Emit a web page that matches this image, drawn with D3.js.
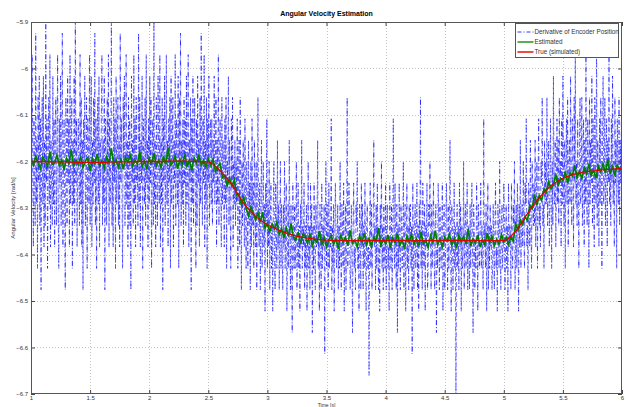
<!DOCTYPE html>
<html lang="en">
<head>
    <meta charset="UTF-8">
    <title>Angular Velocity Estimation</title>
    <script src="https://cdn.jsdelivr.net/npm/d3@7/dist/d3.min.js"></script>
    <style>
        body { margin: 0; background: #fff; }
        text { font-family: "Liberation Sans", Arial, sans-serif; }
    </style>
</head>
<body>

<script>

    //________________________________________________
    // Data
    //________________________________________________
    var xTicks = [1, 1.5, 2, 2.5, 3, 3.5, 4, 4.5, 5, 5.5, 6];
    var yTicks = [-5.9, -6, -6.1, -6.2, -6.3, -6.4, -6.5, -6.6, -6.7];
    var legendLabels = ['Derivative of Encoder Position', 'Estimated', 'True (simulated)'];

    // encoder derivative, in encoder counts (one sample every 5 ms from t = 1 s)
    var encoderStart = 1, encoderDt = 0.005;
    var encoderBase = -6.2, encoderStep = 0.046;
    var encoderCounts = [
        3,-2,5,-1,-4,2,0,-3,6,-2,1,-5,3,-1,4,-3,2,-6,1,3,
        -2,4,-4,1,-3,7,-1,2,-5,0,3,-2,5,-4,1,-1,-3,4,-2,2,
        -4,1,3,-3,0,5,-2,-5,2,-1,4,-3,1,6,-4,0,2,-2,-6,3,
        1,-3,4,-1,2,-4,5,-2,0,3,-5,1,-2,4,-3,7,-1,2,-4,0,
        2,-1,-3,5,-2,3,-4,1,-6,2,0,4,-3,-1,3,-5,2,1,-2,5,
        -3,0,4,-4,1,-2,3,-1,6,-3,2,-5,0,3,-2,4,-4,1,-1,2,
        5,-3,1,-2,4,-6,2,0,-3,3,-1,5,-4,2,-2,1,7,-3,0,-4,
        3,-1,2,-5,4,-2,0,3,-3,1,-4,6,-1,2,-2,-5,3,0,4,-3,
        -1,5,-2,1,-4,3,-3,2,0,-6,4,-1,1,-3,5,-2,2,-4,3,-1,
        0,-3,6,-2,3,-4,1,-1,4,-5,2,0,-2,3,-3,5,-1,1,-4,2,
        -2,4,-1,3,-5,0,2,-3,7,-2,1,-4,3,-1,-3,4,0,-2,5,-4,
        1,-2,3,-6,2,-1,4,-3,0,5,-2,1,-4,2,-1,3,-5,4,-2,0,
        3,-4,1,-1,5,-3,2,0,-2,4,-5,3,-1,6,-3,1,-2,2,-4,3,
        -1,2,-3,4,-2,0,5,-4,1,-1,3,-6,2,-2,4,-3,0,3,-1,-5,
        2,-3,4,-1,1,-4,3,-2,6,0,-3,2,-1,5,-4,1,-2,3,-5,2,
        -1,4,-3,0,2,-2,
        2,-3,1,-1,4,-2,0,3,-4,1,-2,5,-3,0,2,-1,-4,3,-2,1,
        -1,-4,2,-2,3,-5,0,-1,4,-3,1,-2,-5,2,-1,3,-4,0,-2,1,
        -3,0,-2,2,-5,-1,1,-4,3,-2,-6,0,-3,1,-1,-4,2,-2,-5,0,
        -2,-5,1,-3,-1,-6,0,-4,2,-3,-1,-5,1,-2,-4,0,-6,-2,3,-3,
        -4,-1,-6,-2,1,-5,-3,0,-4,-2,-7,-1,-3,2,-5,-2,-4,0,-6,-3,
        -1,-5,-3,-7,-2,0,-4,-6,-1,-3,-5,1,-4,-2,-6,-3,0,-5,-2,-4,
        -6,-2,-4,0,-5,-3,-1,-7,-4,-2,-5,1,-3,-6,-2,-4,-8,-1,-3,-5,
        -2,-5,-3,0,-6,-4,-1,-5,-3,-7,-2,-4,1,-5,-3,
        -4,-1,-6,-3,-5,-2,-7,-4,0,-5,-3,-6,-1,-4,-2,-8,-3,-5,-1,-4,
        -6,-2,-4,-3,1,-5,-3,-7,-2,-4,-6,-1,-5,-3,-4,-2,-9,-3,0,-5,
        -2,-4,-6,-1,-5,-3,-4,2,-6,-3,-5,-2,-7,-4,-1,-3,-5,-4,-2,-6,
        -3,-5,0,-4,-6,-2,-3,-5,-1,-7,-4,-2,-6,-3,3,-5,-4,-1,-3,-6,
        -5,-2,-4,-8,-3,-1,-5,-4,-6,-2,-3,0,-5,-4,-7,-2,-3,-6,-1,-4,
        -2,-6,-3,-5,-1,-4,-7,-3,-2,-5,-4,-10,-3,-1,-5,-2,-6,-4,-3,1,
        -4,-3,-6,-2,-5,-1,-4,-6,-3,-7,-2,-4,0,-5,-3,-6,-2,-4,-5,-1,
        -6,-3,-2,-5,-4,-7,-1,-3,-5,-2,-6,-4,2,-3,-5,-1,-4,-6,-2,-8,
        -3,-5,-1,-4,-6,-2,-3,-5,-4,0,-6,-3,-2,-7,-4,-1,-5,-3,-6,-2,
        -4,-2,-5,-3,-9,-1,-4,-6,-3,-2,-5,-4,-1,-6,-3,-7,-2,-4,3,-5,
        -3,-6,-1,-4,-5,-2,-7,-3,-4,-1,-6,-5,-2,-3,0,-4,-6,-2,-5,-3,
        -1,-4,-6,-3,-2,-8,-4,-5,-1,-3,-6,-2,-4,-5,-3,-1,-7,-4,-2,-6,
        -5,-3,-1,-4,-6,-2,-5,-3,1,-4,-7,-2,-3,-6,-4,-1,-5,-3,-11,-4,
        -2,-5,-3,-6,-1,-4,-2,-7,-3,-5,-4,0,-6,-3,-2,-5,-4,-1,-6,-3,
        -4,-6,-2,-5,-3,-1,-4,-8,-2,-3,-6,-4,-5,-1,-3,-7,-2,-4,-5,-3,
        -1,-5,-3,-4,-6,2,-4,-3,-5,-2,-7,-4,-1,-6,-3,-5,-2,-4,-3,-6,
        -5,-2,-4,-6,-3,-1,-5,-4,-7,-2,-3,-5,0,-4,-6,-3,-2,-5,-4,-1,
        -3,-6,-4,-2,-5,-3,-7,-1,-4,-3,
        -3,-6,-1,-4,-5,-2,-3,0,-6,-4,-2,-5,-1,-3,-7,-2,-4,1,-5,-3,
        -2,-4,0,-3,-5,-1,-2,2,-4,-3,-6,-1,-2,-4,1,-3,-5,0,-2,-3,
        -1,-3,1,-4,-2,0,-5,-1,2,-3,-2,-4,0,-1,3,-3,-2,-5,1,-2,
        0,-2,3,-3,-1,1,-4,-2,2,-1,-5,0,-3,4,-1,-2,1,-4,-1,2,
        -2,1,-3,3,-1,0,-4,2,-2,4,-1,-3,1,-5,0,2,-2,3,-4,0,
        1,-2,4,-1,-3,2,0,-4,3,-1,5,-2,0,-3,2,-1,-5,1,3,-2,
        -1,3,-3,0,2,-4,1,-2,5,-1,-3,2,0,-5,3,-2,1,-1,4,-3,
        2,-1,-4,3,0,-2,6,-3,1,-1,-4,2,-2,3,0,-5,1,4,-2,-1,
        3,-3,0,2,-4,1,-1,5,-2,0,
        -3,2,-1,4,-2,0,-4,3,-1,1,-5,2,0,-2,3,-3,1,-1,2,-2
    ];

    // estimator output, one sample every 20 ms from t = 1 s
    var estStart = 1, estDt = 0.02;
    var estimated = [
        -6.195,-6.208,-6.188,-6.203,-6.215,-6.191,-6.198,-6.211,-6.180,-6.206,
        -6.202,-6.186,-6.209,-6.196,-6.218,-6.193,-6.204,-6.175,-6.210,-6.197,
        -6.207,-6.189,-6.213,-6.199,-6.192,-6.220,-6.194,-6.205,-6.184,-6.209,
        -6.198,-6.214,-6.190,-6.203,-6.172,-6.208,-6.196,-6.212,-6.194,-6.217,
        -6.191,-6.202,-6.187,-6.210,-6.197,-6.206,-6.178,-6.211,-6.200,-6.215,
        -6.193,-6.204,-6.182,-6.209,-6.198,-6.213,-6.189,-6.206,-6.170,-6.208,
        -6.203,-6.188,-6.216,-6.195,-6.207,-6.185,-6.210,-6.198,-6.219,-6.192,
        -6.204,-6.187,-6.208,-6.197,-6.212,-6.194,
        -6.208,-6.195,-6.221,-6.210,-6.205,-6.235,-6.230,-6.252,-6.236,-6.253,
        -6.240,-6.273,-6.269,-6.293,-6.277,-6.300,-6.317,-6.298,-6.312,-6.326,
        -6.310,-6.331,-6.309,-6.343,-6.333,-6.351,-6.334,-6.345,-6.330,-6.357,
        -6.345,-6.364,-6.343,-6.361,-6.333,-6.362,-6.370,-6.352,-6.377,-6.357,
        -6.360,-6.376,-6.355,-6.381,-6.366,-6.374,-6.350,-6.379,-6.363,-6.384,
        -6.368,-6.359,-6.378,-6.366,-6.388,-6.357,-6.373,-6.363,-6.381,-6.348,
        -6.376,-6.369,-6.384,-6.360,-6.374,-6.354,-6.379,-6.365,-6.383,-6.362,
        -6.372,-6.343,-6.380,-6.367,-6.377,-6.358,-6.386,-6.364,-6.375,-6.355,
        -6.381,-6.368,-6.389,-6.361,-6.373,-6.357,-6.378,-6.366,-6.382,-6.352,
        -6.376,-6.369,-6.385,-6.360,-6.374,-6.349,-6.379,-6.367,-6.383,-6.363,
        -6.371,-6.356,-6.380,-6.365,-6.387,-6.359,-6.373,-6.362,-6.377,-6.345,
        -6.382,-6.366,-6.376,-6.358,-6.384,-6.368,-6.379,-6.354,-6.375,-6.361,
        -6.381,-6.367,-6.378,-6.357,-6.374,
        -6.363,-6.379,-6.362,-6.372,-6.334,-6.347,-6.326,-6.335,-6.318,-6.327,
        -6.294,-6.301,-6.271,-6.294,-6.273,-6.284,-6.259,-6.266,-6.243,-6.259,
        -6.250,-6.228,-6.253,-6.236,-6.242,-6.222,-6.246,-6.224,-6.231,-6.208,
        -6.235,-6.221,-6.237,-6.213,-6.227,-6.206,-6.229,-6.219,-6.236,-6.210,
        -6.222,-6.205,-6.225,-6.195,-6.227,-6.211,-6.228,-6.208,-6.219,-6.209
    ];

    // simulated true velocity, one sample every 100 ms from t = 1 s
    var trueStart = 1, trueDt = 0.1;
    var trueVelocity = [
        -6.200,-6.200,-6.201,-6.201,-6.202,-6.202,-6.202,-6.201,-6.201,-6.200,
        -6.200,-6.200,-6.199,-6.199,-6.200,-6.201,
        -6.220,-6.250,-6.290,-6.318,-6.336,-6.348,-6.357,-6.363,-6.367,-6.369,
        -6.370,-6.370,-6.370,-6.370,-6.370,-6.370,-6.370,-6.370,-6.370,-6.370,
        -6.370,-6.370,-6.370,-6.370,-6.370,
        -6.350,-6.312,-6.278,-6.252,-6.236,-6.227,-6.222,-6.219,-6.217,-6.215
    ];

    //________________________________________________
    // DOM preparation
    //________________________________________________
    var width = 629, height = 407;
    var margins = {top: 22, right: 7, bottom: 13, left: 31};
    var chartW = width - margins.left - margins.right;
    var chartH = height - margins.top - margins.bottom;

    var svg = d3.select('body').append('svg')
            .attr('width', width).attr('height', height)
            .style('display', 'block');
    svg.append('rect').attr('width', width).attr('height', height).attr('fill', '#fff');

    var vis = svg.append('g')
            .attr('transform', 'translate(' + margins.left + ',' + margins.top + ')');

    svg.append('defs').append('clipPath').attr('id', 'plot-clip')
            .append('rect').attr('width', chartW).attr('height', chartH);

    var x = d3.scaleLinear().domain([1, 6]).range([0, chartW]);
    var y = d3.scaleLinear().domain([-6.7, -5.9]).range([chartH, 0]);

    //________________________________________________
    // Grid
    //________________________________________________
    var grid = vis.append('g').attr('class', 'grid')
            .attr('stroke', '#b4b4b4').attr('stroke-width', 0.8)
            .attr('stroke-dasharray', '1,2');
    grid.selectAll('line.vgrid').data(xTicks.slice(1, -1)).enter().append('line')
            .attr('class', 'vgrid')
            .attr('x1', function (d) { return Math.round(x(d)) + 0.5; })
            .attr('x2', function (d) { return Math.round(x(d)) + 0.5; })
            .attr('y1', 0).attr('y2', chartH);
    grid.selectAll('line.hgrid').data(yTicks.slice(1, -1)).enter().append('line')
            .attr('class', 'hgrid')
            .attr('y1', function (d) { return Math.round(y(d)) + 0.5; })
            .attr('y2', function (d) { return Math.round(y(d)) + 0.5; })
            .attr('x1', 0).attr('x2', chartW);

    //________________________________________________
    // Lines
    //________________________________________________
    var plot = vis.append('g').attr('clip-path', 'url(#plot-clip)');

    var encoderLine = d3.line()
            .x(function (d, i) { return x(encoderStart + i * encoderDt); })
            .y(function (d) { return y(encoderBase + d * encoderStep); });
    plot.append('path').datum(encoderCounts)
            .attr('d', encoderLine)
            .attr('fill', 'none').attr('stroke', '#0000ff')
            .attr('stroke-width', 0.6)
            .attr('stroke-dasharray', '5,2,1,2');

    var estLine = d3.line()
            .x(function (d, i) { return x(estStart + i * estDt); })
            .y(function (d) { return y(d); });
    plot.append('path').datum(estimated)
            .attr('d', estLine)
            .attr('fill', 'none').attr('stroke', '#008000')
            .attr('stroke-width', 1.7);

    var trueLine = d3.line()
            .x(function (d, i) { return x(trueStart + i * trueDt); })
            .y(function (d) { return y(d); })
            .curve(d3.curveMonotoneX);
    plot.append('path').datum(trueVelocity)
            .attr('d', trueLine)
            .attr('fill', 'none').attr('stroke', '#e00000')
            .attr('stroke-width', 1.3);

    //________________________________________________
    // Axes (box with inward ticks on all sides)
    //________________________________________________
    function styleAxis(g) {
        g.select('.domain').remove();
        g.selectAll('line').attr('stroke', '#444');
        g.selectAll('text').attr('fill', '#333').style('font-size', '6px');
    }
    vis.append('g').attr('transform', 'translate(0,' + chartH + ')')
            .call(d3.axisBottom(x).tickValues(xTicks).tickSize(-4).tickPadding(2).tickFormat(d3.format('')))
            .call(styleAxis);
    vis.append('g')
            .call(d3.axisTop(x).tickValues(xTicks).tickSize(-4).tickFormat(''))
            .call(styleAxis);
    vis.append('g')
            .call(d3.axisLeft(y).tickValues(yTicks).tickSize(-4).tickPadding(3).tickFormat(d3.format('')))
            .call(styleAxis);
    vis.append('g').attr('transform', 'translate(' + chartW + ',0)')
            .call(d3.axisRight(y).tickValues(yTicks).tickSize(-4).tickFormat(''))
            .call(styleAxis);
    vis.append('rect')
            .attr('x', 0.5).attr('y', 0.5).attr('width', chartW - 1).attr('height', chartH - 1)
            .attr('fill', 'none').attr('stroke', '#555').attr('stroke-width', 1);

    //________________________________________________
    // Labels
    //________________________________________________
    svg.append('text')
            .attr('x', margins.left + chartW / 2).attr('y', 16)
            .attr('text-anchor', 'middle').attr('fill', '#000')
            .style('font-size', '7px').style('font-weight', 'bold')
            .text('Angular Velocity Estimation');
    svg.append('text')
            .attr('x', margins.left + chartW / 2).attr('y', 406.5)
            .attr('text-anchor', 'middle').attr('fill', '#333')
            .style('font-size', '5px')
            .text('Time [s]');
    svg.append('text')
            .attr('transform', 'translate(15,' + (margins.top + chartH / 2) + ') rotate(-90)')
            .attr('text-anchor', 'middle').attr('fill', '#333')
            .style('font-size', '6px')
            .text('Angular Velocity [rad/s]');

    //________________________________________________
    // Legend
    //________________________________________________
    var legendStyles = [
        {stroke: '#0000ff', width: 0.8, dash: '4,2,1,2'},
        {stroke: '#008000', width: 1.3, dash: null},
        {stroke: '#e00000', width: 1.4, dash: null}
    ];
    var legend = svg.append('g').attr('transform', 'translate(515.5,23.5)');
    legend.append('rect')
            .attr('width', 103).attr('height', 34)
            .attr('fill', '#fff').attr('stroke', '#555').attr('stroke-width', 1);
    var item = legend.selectAll('g.item').data(legendLabels).enter().append('g')
            .attr('class', 'item')
            .attr('transform', function (d, i) { return 'translate(0,' + (8.5 + i * 10) + ')'; });
    item.append('line')
            .attr('x1', 2).attr('x2', 18)
            .attr('stroke', function (d, i) { return legendStyles[i].stroke; })
            .attr('stroke-width', function (d, i) { return legendStyles[i].width; })
            .attr('stroke-dasharray', function (d, i) { return legendStyles[i].dash; });
    item.append('text')
            .attr('x', 19).attr('dy', '0.35em')
            .attr('fill', '#333')
            .style('font-size', '6.3px')
            .text(function (d) { return d; });

</script>

</body>
</html>
